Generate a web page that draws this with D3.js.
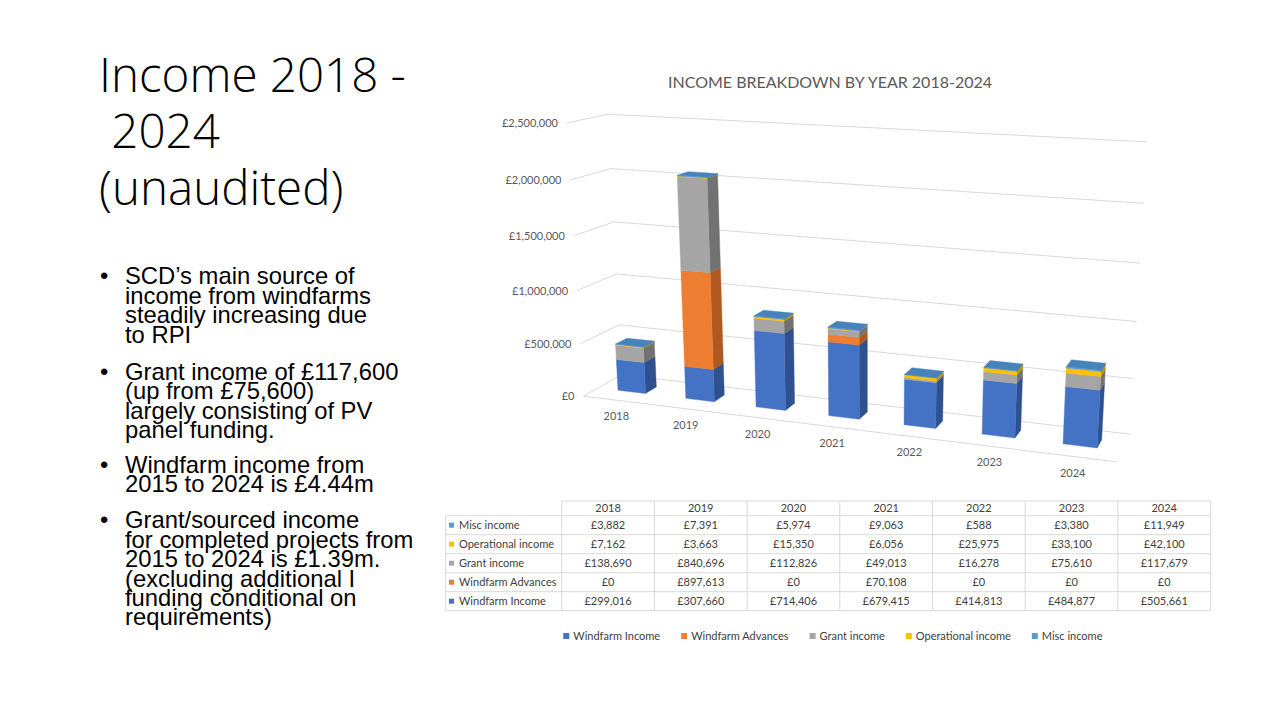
<!DOCTYPE html>
<html lang="en">
<head>
<meta charset="UTF-8">
<title>Income 2018 - 2024</title>
<script src="https://d3js.org/d3.v7.min.js"></script>
<style>
  body { margin: 0; background: #fff; }
  svg { display: block; }
  .slide-title { font-family: "Open Sans", sans-serif; font-weight: 300; font-size: 47.5px; fill: #000; white-space: pre; }
  .bullet { font-family: "Liberation Sans", Arial, sans-serif; font-size: 23.8px; fill: #000; }
  .chart-title { font-family: Lato, sans-serif; font-size: 16px; fill: #595959; }
  .tick { font-family: Lato, sans-serif; font-size: 11px; fill: #595959; }
  .grid { stroke: #d9d9d9; stroke-width: 1; fill: none; }
  .cell { font-family: Lato, sans-serif; font-size: 11px; fill: #404040; }
  .border { stroke: #d9d9d9; stroke-width: 1; }
</style>
</head>
<body>
<svg width="1280" height="720"></svg>
<script>
const years = ["2018", "2019", "2020", "2021", "2022", "2023", "2024"];
const seriesNames = ["Windfarm Income", "Windfarm Advances", "Grant income", "Operational income", "Misc income"];
const windfarmIncome = [299016, 307660, 714406, 679415, 414813, 484877, 505661];
const windfarmAdvances = [0, 897613, 0, 70108, 0, 0, 0];
const grantIncome = [138690, 840696, 112826, 49013, 16278, 75610, 117679];
const operationalIncome = [7162, 3663, 15350, 6056, 25975, 33100, 42100];
const miscIncome = [3882, 7391, 5974, 9063, 588, 3380, 11949];
const yTicks = [0, 500000, 1000000, 1500000, 2000000, 2500000];

const seriesValues = [windfarmIncome, windfarmAdvances, grantIncome, operationalIncome, miscIncome];
const colors = {
  "Windfarm Income":    { front: "#4472c4", side: "#2f5190", top: "#5a86d0" },
  "Windfarm Advances":  { front: "#ed7d31", side: "#b0581e", top: "#f08f4f" },
  "Grant income":       { front: "#a5a5a5", side: "#727272", top: "#b5b5b5" },
  "Operational income": { front: "#ffc000", side: "#c49300", top: "#ffcb33" },
  "Misc income":        { front: "#5b9bd5", side: "#3f74a6", top: "#4783bb" }
};

const svg = d3.select("svg");

// ---------- left hand slide text ----------
const titleLines = ["Income 2018 -", " 2024", "(unaudited)"];
svg.selectAll(".slide-title")
  .data(titleLines)
  .enter()
  .append("text")
  .attr("class", "slide-title")
  .attr("x", 99)
  .attr("y", function (d, i) { return 91.7 + i * 56.7; })
  .text(function (d) { return d; });

const bullets = [
  ["SCD\u2019s main source of", "income from windfarms", "steadily increasing due", "to RPI"],
  ["Grant income of \u00a3117,600", "(up from \u00a375,600)", "largely consisting of PV", "panel funding."],
  ["Windfarm income from", "2015 to 2024 is \u00a34.44m"],
  ["Grant/sourced income", "for completed projects from", "2015 to 2024 is \u00a31.39m.", "(excluding additional I", "funding conditional on", "requirements)"]
];
const bulletTops = [284.3, 380, 472.7, 528.3];
const lineStep = 19.4;
bullets.forEach(function (lines, b) {
  svg.append("text").attr("class", "bullet")
    .attr("x", 100).attr("y", bulletTops[b]).text("\u2022");
  const para = svg.append("text").attr("class", "bullet");
  lines.forEach(function (line, i) {
    para.append("tspan")
      .attr("x", 125).attr("y", bulletTops[b] + i * lineStep).text(line);
  });
});

// ---------- 3D perspective camera (fitted to the chart box corners) ----------
// world: X = category units [0,7], Y = millions [0,2.5], Z = depth [0 front, 1 back]
const boxCorners = [
  [0, 0, 0, 583, 394], [0, 2.5, 0, 567, 124],
  [0, 0, 1, 622, 377], [0, 2.5, 1, 608, 113],
  [7, 0, 1, 1130, 433], [7, 2.5, 1, 1147, 142],
  [7, 0, 0, 1117, 463]
];
const cu = 850, cv = 300, cs = 300;

function fitCamera(pts) {
  const n = 11;
  const M = Array.from({ length: n }, function () { return new Array(n + 1).fill(0); });
  function add(row, rhs) {
    for (let i = 0; i < n; i++) {
      for (let j = 0; j < n; j++) M[i][j] += row[i] * row[j];
      M[i][n] += row[i] * rhs;
    }
  }
  pts.forEach(function (p) {
    const X = p[0], Y = p[1], Z = p[2];
    const u = (p[3] - cu) / cs, v = (p[4] - cv) / cs;
    add([X, Y, Z, 1, 0, 0, 0, 0, -u * X, -u * Y, -u * Z], u);
    add([0, 0, 0, 0, X, Y, Z, 1, -v * X, -v * Y, -v * Z], v);
  });
  for (let c = 0; c < n; c++) {
    let piv = c;
    for (let r = c + 1; r < n; r++) if (Math.abs(M[r][c]) > Math.abs(M[piv][c])) piv = r;
    const tmp = M[c]; M[c] = M[piv]; M[piv] = tmp;
    for (let r = 0; r < n; r++) {
      if (r === c) continue;
      const f = M[r][c] / M[c][c];
      for (let j = c; j <= n; j++) M[r][j] -= f * M[c][j];
    }
  }
  return M.map(function (r, i) { return r[n] / r[i]; });
}
const P = fitCamera(boxCorners);

function project(X, Y, Z) {
  const w = P[8] * X + P[9] * Y + P[10] * Z + 1;
  return [
    (P[0] * X + P[1] * Y + P[2] * Z + P[3]) / w * cs + cu,
    (P[4] * X + P[5] * Y + P[6] * Z + P[7]) / w * cs + cv
  ];
}
function poly(pts) {
  return "M" + pts.map(function (p) { return project(p[0], p[1], p[2]).join(","); }).join("L") + "Z";
}

const xScale = d3.scaleBand().domain(years).range([0, 7]).paddingInner(0.59).paddingOuter(0.295);
const yScale = d3.scaleLinear().domain([0, 2500000]).range([0, 2.5]);
const zFront = 0.38, zBack = 0.68;

// chart title
svg.append("text").attr("class", "chart-title")
  .attr("x", 830).attr("y", 88).attr("text-anchor", "middle")
  .text("INCOME BREAKDOWN BY YEAR 2018-2024");

// gridlines on side wall and back wall
svg.selectAll(".grid")
  .data(yTicks)
  .enter()
  .append("path")
  .attr("class", "grid")
  .attr("d", function (t) {
    const y = yScale(t);
    return "M" + project(0, y, 0).join(",") + "L" + project(0, y, 1).join(",") + "L" + project(7, y, 1).join(",");
  });
// floor front edge
svg.append("path").attr("class", "grid")
  .attr("d", "M" + project(0, 0, 0).join(",") + "L" + project(7, 0, 0).join(","));

// value axis labels
svg.selectAll(".tick")
  .data(yTicks)
  .enter()
  .append("text")
  .attr("class", "tick")
  .attr("text-anchor", "end")
  .attr("x", function (t) { return project(0, yScale(t), 0)[0] - 9; })
  .attr("y", function (t) { return project(0, yScale(t), 0)[1] + 4; })
  .text(function (t) { return "\u00a3" + d3.format(",")(t); });

// category labels
svg.selectAll(".cat")
  .data(years)
  .enter()
  .append("text")
  .attr("class", "tick cat")
  .attr("text-anchor", "middle")
  .attr("x", function (d) { return project(xScale(d) + xScale.bandwidth() / 2, 0, 0)[0] - 1; })
  .attr("y", function (d) { return project(xScale(d) + xScale.bandwidth() / 2, 0, 0)[1] + 20; })
  .text(function (d) { return d; });

// stacked bars
const rows = years.map(function (yr, i) {
  const r = { year: yr };
  seriesNames.forEach(function (s, k) { r[s] = seriesValues[k][i]; });
  return r;
});
const stack = d3.stack().keys(seriesNames)(rows);

const bars = svg.append("g");
years.forEach(function (yr, i) {
  const x0 = xScale(yr), x1 = x0 + xScale.bandwidth();
  let topSeries = null, total = 0;
  stack.forEach(function (layer) {
    const y0 = yScale(layer[i][0]), y1 = yScale(layer[i][1]);
    if (y1 <= y0) return;
    const c = colors[layer.key];
    topSeries = layer.key; total = y1;
    bars.append("path").attr("fill", c.side).attr("stroke", c.side).attr("stroke-width", 0.4)
      .attr("d", poly([[x1, y0, zFront], [x1, y0, zBack], [x1, y1, zBack], [x1, y1, zFront]]));
    bars.append("path").attr("fill", c.front).attr("stroke", c.front).attr("stroke-width", 0.4)
      .attr("d", poly([[x0, y0, zFront], [x1, y0, zFront], [x1, y1, zFront], [x0, y1, zFront]]));
  });
  const ct = colors[topSeries];
  bars.append("path").attr("fill", ct.top).attr("stroke", ct.top).attr("stroke-width", 0.4)
    .attr("d", poly([[x0, total, zFront], [x1, total, zFront], [x1, total, zBack], [x0, total, zBack]]));
});

// ---------- data table ----------
const tLeft = 445.7, tLabelRight = 561.7, colW = 92.7;
const headTop = 501, headBottom = 515.7, rowH = 19;
const tRight = tLabelRight + colW * years.length;
const tableRows = seriesNames.slice().reverse();
const tBottom = headBottom + rowH * tableRows.length;
const table = svg.append("g");

table.append("line").attr("class", "border")
  .attr("x1", tLabelRight).attr("x2", tRight).attr("y1", headTop).attr("y2", headTop);
d3.range(tableRows.length + 1).forEach(function (k) {
  const y = headBottom + k * rowH;
  table.append("line").attr("class", "border")
    .attr("x1", tLeft).attr("x2", tRight).attr("y1", y).attr("y2", y);
});
table.append("line").attr("class", "border")
  .attr("x1", tLeft).attr("x2", tLeft).attr("y1", headBottom).attr("y2", tBottom);
d3.range(years.length + 1).forEach(function (k) {
  const x = tLabelRight + k * colW;
  table.append("line").attr("class", "border")
    .attr("x1", x).attr("x2", x).attr("y1", headTop).attr("y2", tBottom);
});

table.selectAll(".head")
  .data(years)
  .enter()
  .append("text")
  .attr("class", "cell head")
  .attr("text-anchor", "middle")
  .attr("x", function (d, i) { return tLabelRight + colW * (i + 0.5); })
  .attr("y", headTop + 11)
  .text(function (d) { return d; });

tableRows.forEach(function (name, r) {
  const cy = headBottom + rowH * (r + 0.5);
  const vals = seriesValues[seriesNames.indexOf(name)];
  table.append("rect").attr("x", 449).attr("y", cy - 2.5).attr("width", 5).attr("height", 5)
    .attr("fill", colors[name].front);
  table.append("text").attr("class", "cell").attr("x", 459).attr("y", cy + 4).text(name);
  vals.forEach(function (v, i) {
    table.append("text").attr("class", "cell").attr("text-anchor", "middle")
      .attr("x", tLabelRight + colW * (i + 0.5)).attr("y", cy + 4)
      .text("\u00a3" + d3.format(",")(v));
  });
});

// ---------- legend ----------
const legend = svg.append("g");
let lx = 563.3;
seriesNames.forEach(function (name) {
  legend.append("rect").attr("x", lx).attr("y", 633).attr("width", 6).attr("height", 6)
    .attr("fill", colors[name].front);
  const t = legend.append("text").attr("class", "cell").attr("x", lx + 10).attr("y", 640).text(name);
  lx += 10 + t.node().getComputedTextLength() + 21;
});
</script>
</body>
</html>
